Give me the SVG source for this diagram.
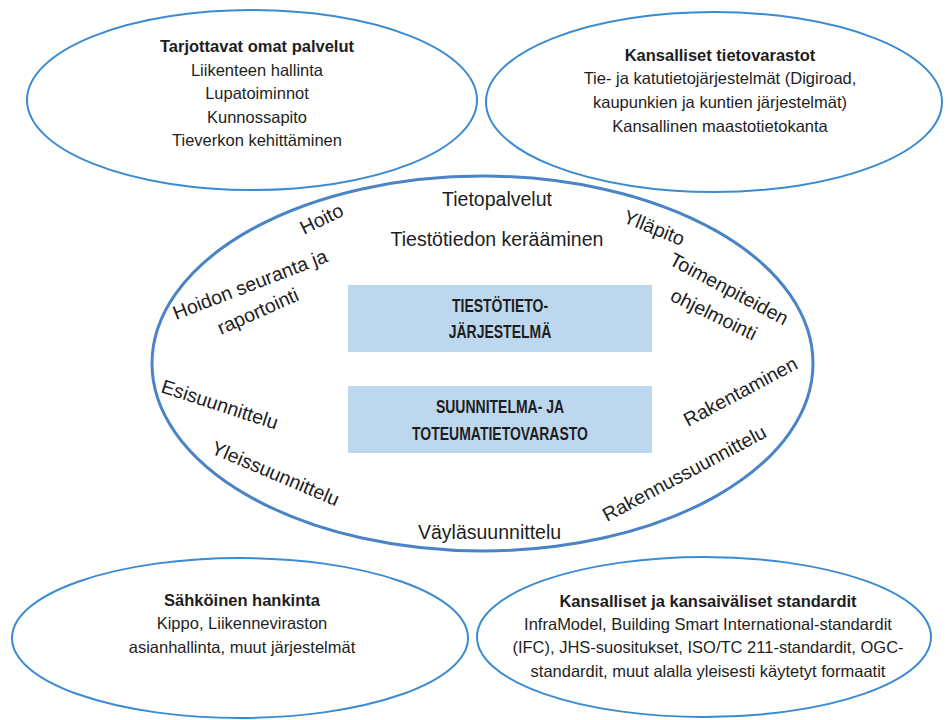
<svg xmlns="http://www.w3.org/2000/svg" width="950" height="720" viewBox="0 0 950 720">
<style>
.outer{fill:none;stroke:#3b8bd2;stroke-width:2}
.main{fill:none;stroke:#4a84c6;stroke-width:3}
.box{fill:#bdd7ee}
text{font-family:"Liberation Sans",Arial,sans-serif;fill:#1e1e1e}
.t{font-size:16.5px;text-anchor:middle}
.tb{font-size:16.5px;text-anchor:middle;font-weight:bold}
.r{font-size:19.5px}
.bx{font-size:17.5px;font-weight:bold;text-anchor:middle}
</style>
<rect width="950" height="720" fill="#ffffff"/>
<g id="main-ellipse">
<ellipse class="main" cx="482.5" cy="363.5" rx="330.5" ry="187.5"/>
<text class="r" x="497" y="206" text-anchor="middle">Tietopalvelut</text>
<text class="r" x="497" y="246" text-anchor="middle">Tiestötiedon kerääminen</text>
<text class="r" transform="translate(304,235) rotate(-26)">Hoito</text>
<text class="r" transform="translate(176,320) rotate(-21)">Hoidon seuranta ja</text>
<text class="r" transform="translate(221,335) rotate(-24)">raportointi</text>
<text class="r" transform="translate(622,222) rotate(22)">Ylläpito</text>
<text class="r" transform="translate(668,264) rotate(28)">Toimenpiteiden</text>
<text class="r" transform="translate(669,300) rotate(26)">ohjelmointi</text>
<text class="r" transform="translate(688,427) rotate(-28)">Rakentaminen</text>
<text class="r" transform="translate(607,522) rotate(-28)">Rakennussuunnittelu</text>
<text class="r" transform="translate(160,392) rotate(18)">Esisuunnittelu</text>
<text class="r" transform="translate(210,453) rotate(23)">Yleissuunnittelu</text>
<text class="r" x="418" y="539">Väyläsuunnittelu</text>
</g>
<g id="tiestotietojarjestelma">
<rect class="box" x="348" y="285" width="304" height="67"/>
<text class="bx" transform="translate(500,312) scale(0.8,1)">TIESTÖTIETO-</text>
<text class="bx" transform="translate(500,338) scale(0.8,1)">JÄRJESTELMÄ</text>
</g>
<g id="suunnitelmatietovarasto">
<rect class="box" x="348" y="386" width="304" height="67"/>
<text class="bx" transform="translate(500,413) scale(0.8,1)">SUUNNITELMA- JA</text>
<text class="bx" transform="translate(500,440) scale(0.8,1)">TOTEUMATIETOVARASTO</text>
</g>
<g id="tarjottavat">
<ellipse class="outer" cx="252" cy="100" rx="225" ry="90"/>
<text class="tb" x="257" y="52">Tarjottavat omat palvelut</text>
<text class="t" x="257" y="76">Liikenteen hallinta</text>
<text class="t" x="257" y="99">Lupatoiminnot</text>
<text class="t" x="257" y="122.5">Kunnossapito</text>
<text class="t" x="257" y="146">Tieverkon kehittäminen</text>
</g>
<g id="kansalliset-tietovarastot">
<ellipse class="outer" cx="714" cy="102" rx="228" ry="90"/>
<text class="tb" x="720" y="61">Kansalliset tietovarastot</text>
<text class="t" x="720" y="84">Tie- ja katutietojärjestelmät (Digiroad,</text>
<text class="t" x="720" y="108">kaupunkien ja kuntien järjestelmät)</text>
<text class="t" x="720" y="131.5">Kansallinen maastotietokanta</text>
</g>
<g id="sahkoinen-hankinta">
<ellipse class="outer" cx="240" cy="638" rx="228" ry="80"/>
<text class="tb" x="242" y="605.5">Sähköinen hankinta</text>
<text class="t" x="242" y="629">Kippo, Liikenneviraston</text>
<text class="t" x="242" y="652.5">asianhallinta, muut järjestelmät</text>
</g>
<g id="standardit">
<ellipse class="outer" cx="704" cy="637" rx="227" ry="80"/>
<text class="tb" x="708" y="606.5">Kansalliset ja kansaiväliset standardit</text>
<text class="t" x="708" y="630">InfraModel, Building Smart International-standardit</text>
<text class="t" x="708" y="653">(IFC), JHS-suositukset, ISO/TC 211-standardit, OGC-</text>
<text class="t" x="708" y="676.5">standardit, muut alalla yleisesti käytetyt formaatit</text>
</g>
</svg>
